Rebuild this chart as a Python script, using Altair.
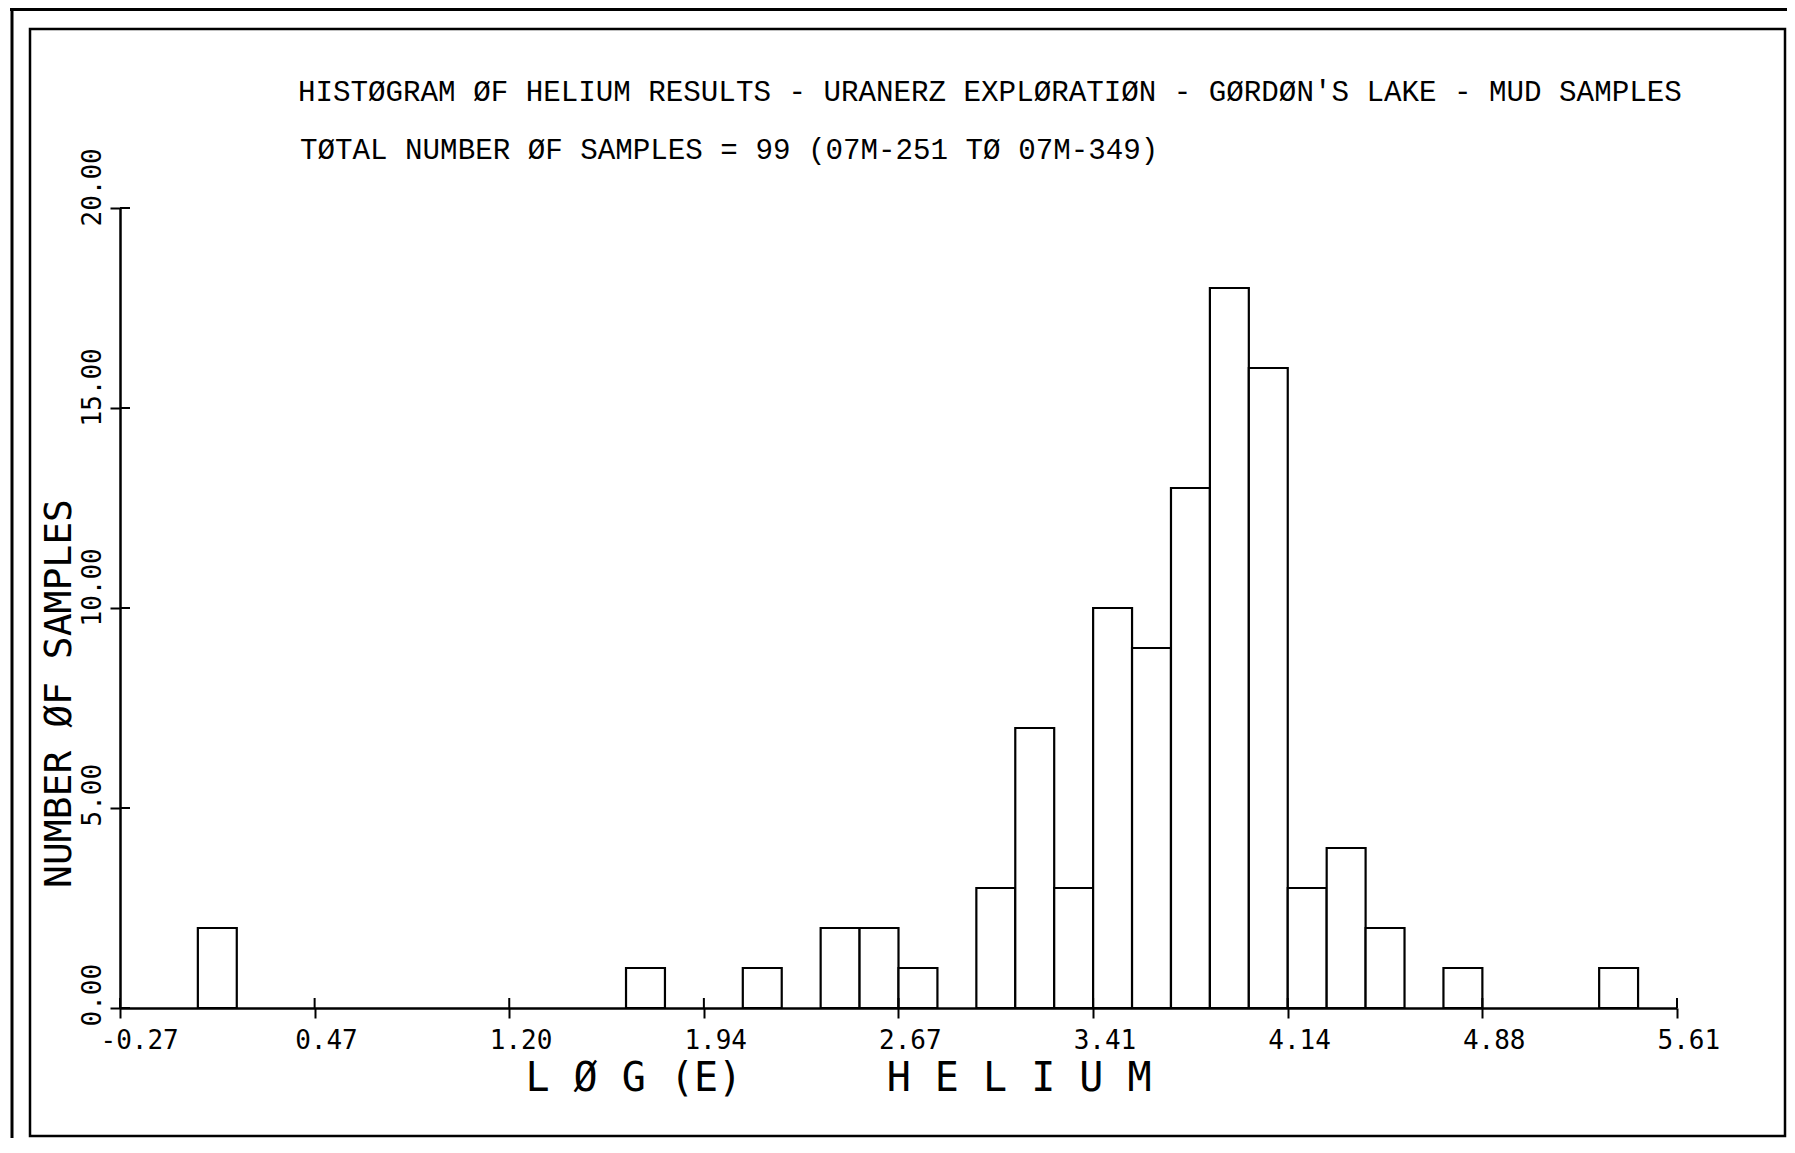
import altair as alt
import pandas as pd

# ---- text ----
TITLE_LINE_1 = "HISTØGRAM ØF HELIUM RESULTS - URANERZ EXPLØRATIØN - GØRDØN'S LAKE - MUD SAMPLES"
TITLE_LINE_2 = "TØTAL NUMBER ØF SAMPLES = 99 (07M-251 TØ 07M-349)"
X_TITLE = "L\u00a0Ø\u00a0G\u00a0(E)\u00a0\u00a0\u00a0\u00a0\u00a0\u00a0H\u00a0E\u00a0L\u00a0I\u00a0U\u00a0M"
Y_TITLE = "NUMBER ØF SAMPLES"

# ---- data (histogram bins) ----
BIN_START = [0.024, 1.641, 2.082, 2.376, 2.523, 2.67, 2.964, 3.111, 3.258, 3.405,
             3.552, 3.699, 3.846, 3.993, 4.14, 4.287, 4.434, 4.728, 5.316]
COUNTS = [2, 1, 1, 2, 2, 1, 3, 7, 3, 10, 9, 13, 18, 16, 3, 4, 2, 1, 1]
BIN_WIDTH = 0.147

X_TICKS = [-0.27, 0.465, 1.2, 1.935, 2.67, 3.405, 4.14, 4.875, 5.61]
X_TICK_LABELS = ["-0.27", "0.47", "1.20", "1.94", "2.67", "3.41", "4.14", "4.88", "5.61"]
Y_TICKS = [0, 5, 10, 15, 20]
Y_TICK_LABELS = ["0.00", "5.00", "10.00", "15.00", "20.00"]
X_DOMAIN = [-0.27, 5.61]
Y_DOMAIN = [0, 20]

W, H = 1557, 800
MONO = "DejaVu Sans Mono"


def lookup_expr(values, labels):
    vals = ",".join(repr(v) for v in values)
    labs = ",".join("'" + s + "'" for s in labels)
    return f"[{labs}][indexof([{vals}], datum.value)]"


bars_df = pd.DataFrame({"start": BIN_START, "count": COUNTS})
bars_df["end"] = bars_df["start"] + BIN_WIDTH

xscale = alt.Scale(domain=X_DOMAIN, nice=False, zero=False)
yscale = alt.Scale(domain=Y_DOMAIN, nice=False)

x_axis = alt.Axis(
    values=X_TICKS, labelExpr=lookup_expr(X_TICKS, X_TICK_LABELS), title=X_TITLE, grid=False,
    labelAlign="left", labelOffset=-20, labelBaseline="alphabetic", labelPadding=30,
    labelFont=MONO, labelFontSize=26, labelColor="black", labelFlush=False, labelOverlap=False,
    titleFont=MONO, titleFontSize=40, titleFontWeight="normal", titleColor="black",
    titleX=718, titleY=82, titleAlign="center", titleBaseline="alphabetic",
    tickSize=10, tickWidth=2, tickColor="black", domainColor="black", domainWidth=2.5,
)
y_axis = alt.Axis(
    values=Y_TICKS, labelExpr=lookup_expr(Y_TICKS, Y_TICK_LABELS), title=Y_TITLE, grid=False,
    labelAngle=270, labelAlign="left", labelBaseline="alphabetic", labelOffset=18, labelPadding=10,
    labelFont=MONO, labelFontSize=26, labelColor="black", labelFlush=False, labelOverlap=False,
    titleFont=MONO, titleFontSize=38, titleFontWeight="normal", titleColor="black",
    titleAngle=270, titleX=-50, titleY=485, titleAlign="center", titleBaseline="alphabetic",
    tickSize=10, tickWidth=2, tickColor="black", domainColor="black", domainWidth=2.5,
)

bars = alt.Chart(bars_df).mark_rect(fill="white", stroke="black", strokeWidth=2.2).encode(
    x=alt.X("start:Q", scale=xscale, axis=x_axis),
    x2="end:Q",
    y=alt.Y("count:Q", scale=yscale, axis=y_axis),
    y2=alt.datum(0),
)

# inward half of the crossing ticks
x_in = alt.Chart(pd.DataFrame({"t": X_TICKS})).mark_rule(color="black", strokeWidth=2).encode(
    x=alt.X("t:Q", scale=xscale, axis=None), y=alt.value(H), y2=alt.value(H - 10)
)
y_in = alt.Chart(pd.DataFrame({"v": Y_TICKS})).mark_rule(color="black", strokeWidth=2).encode(
    y=alt.Y("v:Q", scale=yscale, axis=None), x=alt.value(0), x2=alt.value(10)
)

one = pd.DataFrame({"k": [0]})

frame = alt.Chart(one).mark_rect(fill="white", fillOpacity=0, stroke="black", strokeWidth=2.5).encode(
    x=alt.value(-90), x2=alt.value(1665), y=alt.value(-179), y2=alt.value(928)
)
outer_top = alt.Chart(one).mark_rule(color="black", strokeWidth=4).encode(
    x=alt.value(-110), x2=alt.value(1700), y=alt.value(-199)
)
outer_left = alt.Chart(one).mark_rule(color="black", strokeWidth=3).encode(
    x=alt.value(-108), y=alt.value(-200), y2=alt.value(935)
)

title1 = alt.Chart(one).mark_text(font="Liberation Mono", fontSize=29.2, align="left",
                                  baseline="alphabetic", color="black").encode(
    x=alt.value(178), y=alt.value(-107.5), text=alt.value(TITLE_LINE_1)
)
title2 = alt.Chart(one).mark_text(font="Liberation Mono", fontSize=29.2, align="left",
                                  baseline="alphabetic", color="black").encode(
    x=alt.value(180), y=alt.value(-49), text=alt.value(TITLE_LINE_2)
)

chart = alt.layer(frame, outer_top, outer_left, bars, x_in, y_in, title1, title2).resolve_axis(
    x="independent", y="independent"
).properties(
    width=W, height=H,
    autosize=alt.AutoSizeParams(type="none"),
    padding={"left": 112, "top": 200, "right": 110, "bottom": 130},
    background="white",
).configure_view(stroke=None)

chart.save("out.html", embed_options={"renderer": "svg", "actions": False})
